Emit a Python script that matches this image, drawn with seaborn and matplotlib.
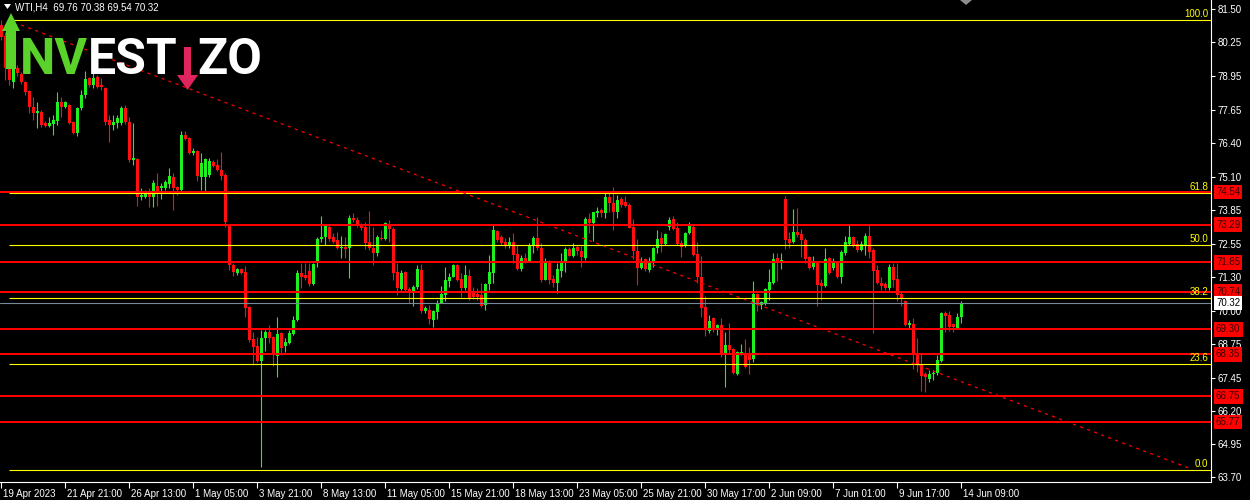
import numpy as np
import pandas as pd
import matplotlib
matplotlib.use("Agg")
import matplotlib.pyplot as plt
import matplotlib.transforms as mtrans
from matplotlib.patches import Polygon
import seaborn as sns

# WTI H4 candles (one entry per bar)
opens = [
    80.89, 80.47, 79.29, 78.72, 79.25, 79.03, 78.72, 78.38, 77.77, 77.54,
    77.58, 77.16, 77.05, 77.12, 77.24, 77.96, 77.77, 77.85, 77.20, 76.78,
    77.73, 78.23, 78.87, 78.61, 78.91, 78.61, 78.49, 77.28, 77.08, 77.16,
    77.16, 77.73, 77.20, 75.75, 75.79, 74.34, 74.34, 74.50, 74.34, 74.76,
    74.69, 74.69, 74.84, 75.11, 74.72, 74.61, 76.70, 76.59, 76.02, 76.09,
    75.11, 75.11, 75.18, 75.68, 75.56, 75.37, 75.18, 73.28, 71.75, 71.45,
    71.60, 71.49, 70.16, 68.94, 68.67, 68.10, 68.97, 69.20, 69.01, 68.29,
    69.17, 68.67, 68.79, 69.13, 69.66, 71.45, 71.37, 71.53, 71.03, 71.83,
    72.74, 72.82, 73.20, 72.82, 72.71, 72.40, 72.44, 72.40, 73.54, 73.47,
    73.28, 73.20, 72.63, 72.40, 72.21, 72.78, 72.74, 73.32, 73.13, 71.49,
    70.84, 71.49, 70.84, 70.73, 70.92, 71.56, 70.00, 70.04, 69.66, 69.97,
    70.31, 70.61, 71.15, 71.30, 71.75, 71.22, 70.88, 71.34, 70.69, 70.65,
    70.61, 70.23, 71.03, 71.45, 73.05, 72.82, 72.63, 72.48, 72.63, 72.17,
    71.60, 72.02, 71.90, 72.52, 72.78, 72.40, 71.18, 71.83, 71.22, 71.07,
    71.53, 71.83, 72.36, 72.10, 72.44, 72.29, 72.02, 73.51, 73.35, 73.73,
    73.85, 73.73, 74.34, 74.12, 73.77, 74.27, 74.15, 74.04, 73.20, 72.29,
    71.64, 71.98, 71.56, 71.83, 72.40, 72.78, 72.55, 73.20, 73.51, 73.16,
    72.59, 72.52, 72.97, 73.20, 72.17, 71.30, 70.16, 69.24, 69.74, 69.36,
    69.47, 68.40, 68.71, 68.56, 67.60, 68.40, 68.40, 68.33, 68.18, 70.65,
    70.23, 70.31, 70.80, 71.07, 72.02, 71.87, 74.27, 72.74, 72.63, 73.01,
    72.94, 72.71, 72.06, 71.68, 71.83, 71.07, 70.96, 72.02, 71.64, 71.83,
    71.30, 72.21, 72.55, 72.82, 72.55, 72.33, 72.52, 72.86, 72.33, 71.56,
    71.07, 71.03, 70.88, 71.68, 71.22, 70.65, 70.38, 69.47, 69.51, 68.33,
    67.95, 67.60, 67.41, 67.60, 67.64, 68.10, 69.93, 69.85, 69.51, 69.36,
    69.76,
]
highs = [
    81.08, 80.63, 79.33, 79.33, 79.37, 79.10, 78.76, 78.42, 78.15, 77.96,
    77.66, 77.24, 77.39, 77.47, 78.34, 78.15, 78.00, 77.88, 77.24, 77.77,
    78.42, 79.14, 78.91, 79.06, 78.99, 78.87, 78.53, 77.47, 77.47, 77.47,
    77.81, 77.85, 77.39, 77.16, 75.83, 74.69, 74.61, 74.69, 74.99, 75.26,
    74.88, 74.99, 75.45, 75.26, 74.76, 76.86, 76.86, 76.63, 76.21, 76.13,
    76.02, 75.83, 75.83, 75.75, 75.79, 76.06, 75.26, 73.32, 71.83, 71.64,
    71.64, 71.72, 70.19, 69.20, 69.01, 69.28, 69.28, 69.47, 69.05, 69.78,
    69.20, 68.97, 69.28, 69.81, 71.56, 71.83, 71.83, 71.83, 71.83, 72.82,
    73.62, 73.28, 73.28, 72.97, 73.01, 72.86, 72.82, 73.66, 73.73, 73.58,
    73.35, 73.39, 73.81, 73.20, 72.90, 73.09, 73.39, 73.47, 73.20, 71.83,
    71.56, 71.53, 70.92, 70.99, 71.75, 71.79, 70.19, 70.23, 70.04, 70.42,
    70.96, 71.68, 71.45, 71.79, 71.79, 71.45, 71.75, 71.60, 70.92, 70.88,
    71.07, 71.07, 72.14, 73.28, 73.09, 72.90, 72.78, 72.82, 72.97, 72.52,
    72.14, 72.21, 72.59, 72.86, 73.58, 72.59, 72.02, 71.94, 71.37, 71.83,
    72.21, 72.44, 72.44, 72.59, 72.52, 72.48, 73.58, 73.73, 73.77, 73.96,
    73.92, 74.50, 74.50, 74.72, 74.42, 74.34, 74.38, 74.12, 73.51, 72.74,
    72.06, 72.02, 72.06, 72.44, 73.09, 73.01, 72.97, 73.58, 73.62, 73.39,
    72.71, 73.01, 73.39, 73.28, 72.63, 72.10, 70.57, 69.85, 69.78, 69.51,
    69.74, 69.20, 69.55, 68.60, 68.48, 68.75, 68.94, 68.63, 71.15, 70.69,
    70.38, 70.88, 71.60, 72.21, 72.21, 72.21, 74.38, 73.01, 73.89, 73.92,
    73.13, 72.78, 72.10, 72.10, 71.87, 71.22, 72.40, 72.06, 72.02, 71.87,
    72.33, 72.86, 73.28, 72.86, 72.71, 72.67, 72.97, 73.28, 72.40, 71.75,
    71.30, 71.11, 71.79, 71.83, 71.83, 70.73, 70.42, 69.66, 69.74, 68.97,
    68.40, 67.68, 67.76, 67.76, 68.33, 69.95, 70.00, 70.00, 69.55, 69.93,
    70.38,
]
lows = [
    80.32, 78.80, 78.61, 78.49, 78.95, 78.64, 78.23, 77.54, 77.28, 76.97,
    77.01, 77.01, 77.01, 76.70, 77.08, 77.39, 77.73, 77.12, 76.74, 76.67,
    77.66, 78.11, 78.53, 78.49, 78.49, 78.42, 77.08, 76.44, 76.89, 76.97,
    77.08, 77.12, 75.68, 75.56, 74.00, 74.23, 74.30, 73.96, 73.96, 74.00,
    74.27, 74.61, 74.69, 73.85, 74.42, 74.53, 76.51, 75.98, 75.94, 74.95,
    74.61, 74.50, 75.11, 75.49, 75.33, 74.99, 73.20, 71.56, 71.34, 71.37,
    71.41, 69.78, 68.82, 67.95, 68.06, 64.07, 68.48, 68.79, 67.91, 67.49,
    68.33, 68.44, 68.75, 69.09, 69.62, 70.88, 71.18, 70.96, 70.99, 71.68,
    72.63, 72.52, 72.67, 72.59, 72.36, 72.02, 72.02, 71.26, 73.39, 73.20,
    73.09, 72.36, 72.33, 71.75, 72.10, 72.71, 72.71, 72.63, 71.18, 70.61,
    70.80, 70.73, 70.31, 70.19, 70.84, 69.93, 69.93, 69.51, 69.39, 69.70,
    70.31, 70.38, 70.92, 71.30, 71.15, 70.54, 70.80, 70.42, 70.46, 70.42,
    70.16, 70.04, 70.80, 71.07, 72.63, 72.52, 72.40, 72.40, 71.83, 71.56,
    71.53, 71.83, 71.87, 72.21, 72.33, 71.11, 71.18, 71.03, 70.92, 70.69,
    71.30, 71.49, 72.10, 72.06, 72.14, 71.68, 71.94, 72.97, 72.67, 73.58,
    73.58, 73.54, 73.77, 73.09, 73.54, 73.96, 73.96, 73.16, 71.98, 70.99,
    71.60, 71.53, 71.49, 71.68, 72.21, 72.25, 72.52, 73.09, 73.09, 72.52,
    72.06, 72.44, 72.94, 72.10, 71.07, 69.78, 69.05, 69.17, 69.20, 69.09,
    68.25, 67.11, 68.40, 67.60, 67.57, 68.33, 67.83, 67.60, 68.06, 70.00,
    70.08, 70.23, 70.42, 71.03, 71.15, 71.60, 72.36, 72.40, 72.59, 72.82,
    72.06, 71.83, 71.60, 71.60, 70.19, 70.42, 70.92, 71.41, 71.56, 71.26,
    71.07, 72.14, 72.52, 72.44, 72.25, 72.29, 72.14, 72.02, 69.17, 71.03,
    70.80, 70.80, 70.80, 70.92, 70.38, 70.19, 69.43, 69.36, 67.79, 67.68,
    66.96, 66.92, 67.30, 67.38, 67.57, 68.06, 69.20, 69.24, 69.20, 69.36,
    69.54,
]
closes = [
    80.43, 79.25, 78.80, 79.25, 79.06, 78.72, 78.34, 77.77, 77.54, 77.62,
    77.08, 77.05, 77.16, 77.28, 77.96, 77.77, 77.96, 77.16, 76.78, 77.73,
    78.23, 78.84, 78.61, 78.87, 78.53, 78.53, 77.20, 77.08, 77.20, 77.35,
    77.73, 77.20, 75.75, 75.83, 74.34, 74.42, 74.50, 74.34, 74.88, 74.53,
    74.76, 74.91, 75.14, 74.69, 74.61, 76.70, 76.55, 76.02, 76.09, 75.14,
    75.64, 75.79, 75.71, 75.52, 75.37, 75.14, 73.39, 71.75, 71.49, 71.60,
    71.45, 70.12, 68.90, 68.63, 68.10, 68.97, 69.20, 68.97, 68.33, 69.13,
    68.60, 68.82, 69.17, 69.66, 71.45, 71.30, 71.26, 71.03, 71.79, 72.74,
    72.82, 73.24, 72.74, 72.63, 72.40, 72.44, 72.36, 73.54, 73.47, 73.28,
    73.16, 72.59, 72.40, 72.21, 72.82, 72.74, 73.35, 73.13, 71.45, 70.88,
    71.45, 70.80, 70.69, 70.92, 71.60, 70.00, 70.12, 69.70, 70.00, 70.31,
    70.65, 71.18, 71.30, 71.75, 71.18, 70.88, 71.37, 70.46, 70.54, 70.54,
    70.19, 71.03, 71.49, 73.09, 72.71, 72.59, 72.48, 72.63, 72.14, 71.60,
    72.02, 71.87, 72.52, 72.78, 72.40, 71.18, 71.83, 71.18, 71.07, 71.60,
    71.83, 72.36, 72.10, 72.40, 72.29, 72.06, 73.51, 73.35, 73.77, 73.81,
    73.73, 74.34, 74.12, 73.77, 74.23, 74.04, 74.00, 73.16, 72.29, 71.64,
    71.83, 71.60, 71.87, 72.40, 72.74, 72.55, 72.94, 73.47, 73.13, 72.55,
    72.44, 72.97, 73.24, 72.14, 71.30, 70.12, 69.28, 69.62, 69.28, 69.47,
    68.33, 68.71, 68.52, 67.64, 68.44, 68.44, 67.87, 68.14, 70.65, 70.23,
    70.35, 70.84, 71.11, 71.98, 71.83, 71.94, 72.71, 72.59, 73.01, 72.90,
    72.71, 71.98, 71.64, 71.83, 70.99, 70.96, 71.98, 71.45, 71.83, 71.30,
    72.25, 72.63, 72.82, 72.52, 72.33, 72.55, 72.86, 72.25, 71.53, 71.07,
    70.96, 70.88, 71.68, 71.18, 70.61, 70.50, 69.47, 69.55, 68.33, 67.95,
    67.53, 67.49, 67.60, 67.64, 68.14, 69.93, 69.81, 69.39, 69.39, 69.78,
    70.32,
]

level_prices = [74.54, 73.29, 71.85, 70.74, 69.30, 68.35, 66.75, 65.77]
fib_prices = [81.08, 74.50, 72.52, 70.49, 67.99, 63.95]
fib_names = ["100.0", "61.8", "50.0", "38.2", "23.6", "0.0"]
last_price = 70.32
trend_bars = [5, 297.5]
trend_prices = [80.89, 63.99]

ytick_values = [81.50, 80.25, 78.95, 77.65, 76.40, 75.10, 73.85, 72.55,
                71.30, 70.00, 68.75, 67.45, 66.20, 64.95, 63.70]
xtick_bars = [0, 16, 32, 48, 64, 80, 96, 112, 128, 144, 160, 176, 192, 208, 224, 240]
xtick_names = ["19 Apr 2023", "21 Apr 21:00", "26 Apr 13:00", "1 May 05:00",
               "3 May 21:00", "8 May 13:00", "11 May 05:00", "15 May 21:00",
               "18 May 13:00", "23 May 05:00", "25 May 21:00", "30 May 17:00",
               "2 Jun 09:00", "7 Jun 01:00", "9 Jun 17:00", "14 Jun 09:00"]

sns.set_style("dark", {"axes.facecolor": "black", "figure.facecolor": "black"})
plt.rcParams["font.family"] = ["Liberation Sans", "DejaVu Sans"]

UP = "#1ff01f"
DOWN = "#ff1010"

df = pd.DataFrame({"open": opens, "high": highs, "low": lows, "close": closes})
df["bar"] = np.arange(len(df))
colors = np.where(df["close"] >= df["open"], UP, DOWN)

W, H = 1250, 500
fig = plt.figure(figsize=(12.5, 5), dpi=100, facecolor="black")
ax = fig.add_axes([0, 18.5 / H, 1211 / W, 481.5 / H])
ax.set_facecolor("black")


def px(x, y):
    return (x / W, 1 - y / H)


# candles
ax.vlines(df["bar"], df["low"], df["high"], colors=colors, lw=0.8, zorder=2)
body_low = df[["open", "close"]].min(axis=1)
body_h = (df["close"] - df["open"]).abs().clip(lower=0.035)
ax.bar(df["bar"], body_h, bottom=body_low, width=0.74, color=colors,
       linewidth=0, zorder=2)

# horizontal levels
for p in level_prices:
    ax.axhline(p, color="red", lw=1.45, zorder=3)
ax.hlines(fib_prices, 2, 303, color="#ffff00", lw=0.8, zorder=3)
ax.axhline(last_price, color="#778899", lw=0.8, zorder=3)

# trend line
sns.lineplot(x=trend_bars, y=trend_prices, ax=ax, color="red", linewidth=0.9,
             linestyle=(0, (2.5, 3.5)), zorder=4)

ax.set_xlim(-0.3, 302.45)
ax.set_ylim(63.51, 81.843)

# axes / ticks
for side in ["left", "top"]:
    ax.spines[side].set_visible(False)
for side in ["right", "bottom"]:
    ax.spines[side].set_visible(True)
    ax.spines[side].set_color("white")
    ax.spines[side].set_linewidth(0.8)
ax.grid(False)

ax.yaxis.tick_right()
ax.set_yticks(ytick_values)
ax.set_yticklabels([f"{v:.2f}" for v in ytick_values])
ax.set_xticks(xtick_bars)
ax.set_xticklabels(xtick_names)
ax.tick_params(axis="y", right=True, left=False, length=3, width=0.8,
               color="white", labelcolor="white", labelsize=7, pad=2)
ax.tick_params(axis="x", bottom=True, length=4, width=0.8, color="white",
               labelcolor="white", labelsize=7, pad=1.5)
shift = mtrans.ScaledTranslation(2 / 100, 0, fig.dpi_scale_trans)
for lab in ax.get_xticklabels():
    lab.set_horizontalalignment("left")
    lab.set_transform(lab.get_transform() + shift)

# fib labels
for p, name in zip(fib_prices, fib_names):
    ax.annotate(name, xy=(1, p), xycoords=("axes fraction", "data"),
                xytext=(-3, 1), textcoords="offset pixels", ha="right",
                va="bottom", color="#ffff00", fontsize=7, zorder=5)

# price boxes on the right scale
for p in level_prices:
    ax.annotate(f"{p:.2f}", xy=(1, p), xycoords=("axes fraction", "data"),
                xytext=(5, 0), textcoords="offset pixels", ha="left",
                va="center", color="#3a0000", fontsize=7, zorder=6,
                annotation_clip=False,
                bbox=dict(boxstyle="square,pad=0.22", fc="red", ec="none"))
ax.annotate(f"{last_price:.2f}", xy=(1, last_price),
            xycoords=("axes fraction", "data"), xytext=(5, 0),
            textcoords="offset pixels", ha="left", va="center", color="black",
            fontsize=7, zorder=6, annotation_clip=False,
            bbox=dict(boxstyle="square,pad=0.22", fc="white", ec="none"))

# header
fig.patches.append(Polygon([px(4, 4), px(11, 4), px(7.5, 9)], closed=True,
                           transform=fig.transFigure, fc="white", ec="none"))
fig.text(*px(15, 8), "WTI,H4  69.76 70.38 69.54 70.32", color="white",
         fontsize=7, va="center", ha="left")
fig.patches.append(Polygon([px(960, 0), px(972, 0), px(966, 5)], closed=True,
                           transform=fig.transFigure, fc="#8c8c8c", ec="none"))

# logo
GREEN = "#5ad22a"
PINK = "#e0245e"
fig.patches.append(Polygon([px(11, 13), px(20, 31), px(16, 31), px(16, 69),
                            px(6, 69), px(6, 31), px(2, 31)], closed=True,
                           transform=fig.transFigure, fc=GREEN, ec="none",
                           zorder=10))
fig.patches.append(Polygon([px(184, 47), px(191, 47), px(191, 75), px(198, 75),
                            px(187.5, 90), px(177, 75), px(184, 75)], closed=True,
                           transform=fig.transFigure, fc=PINK, ec="none",
                           zorder=10))
logo_kw = dict(fontsize=36, fontweight="bold", family="Roboto", va="baseline",
               ha="left", zorder=10)
t_nv = fig.text(*px(20, 74), "NV", color=GREEN, **logo_kw)
renderer = fig.canvas.get_renderer()
nv_right = t_nv.get_window_extent(renderer).x1
fig.text(nv_right / W, 1 - 74 / H, "EST", color="white", **logo_kw)
fig.text(*px(197, 74), "ZO", color="white", **logo_kw)

fig.savefig("out.png", dpi=100, facecolor="black")
